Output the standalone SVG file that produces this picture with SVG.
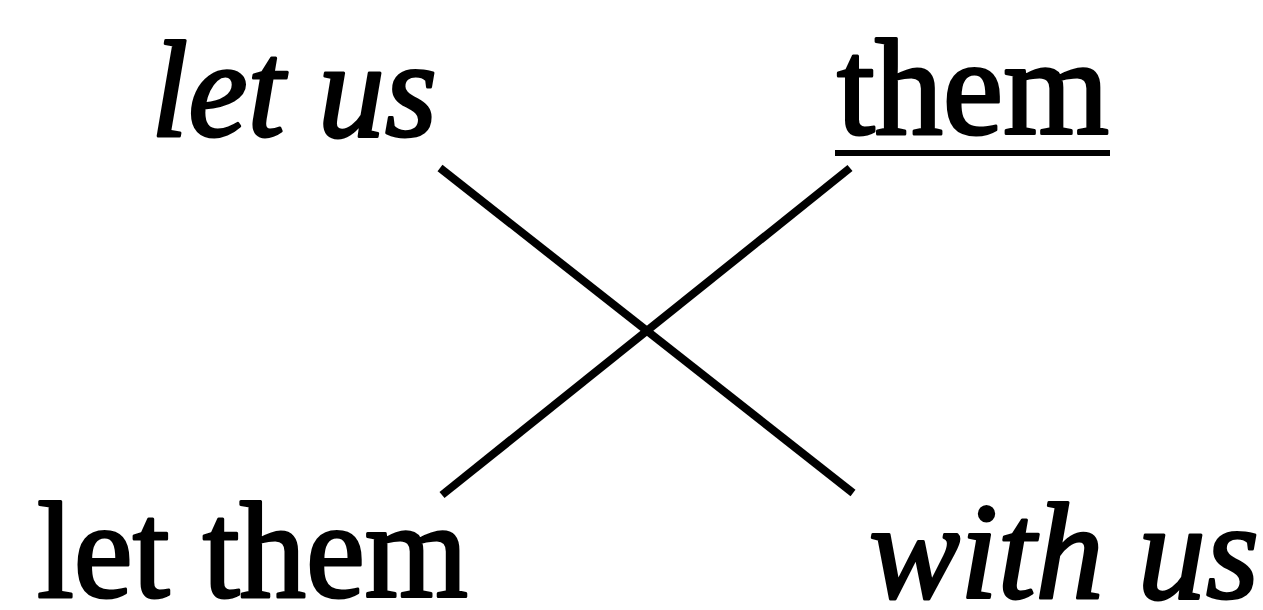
<svg xmlns="http://www.w3.org/2000/svg" width="1263" height="610" viewBox="0 0 1263 610">
<style>
.t{font-family:"Liberation Serif","Times New Roman",serif;font-size:138px;fill:#000;stroke:#000;stroke-width:3;stroke-linejoin:round}
.i{font-style:italic}
.c{stroke:#000;stroke-width:8;stroke-linecap:butt;fill:none}
</style>
<rect width="1263" height="610" fill="#fff"/>
<g id="node-let-us"><text class="t i" x="151" y="136" textLength="286" lengthAdjust="spacingAndGlyphs">let us</text></g>
<g id="node-them"><text class="t" x="837" y="134" textLength="272" lengthAdjust="spacingAndGlyphs">them</text><rect x="835" y="150" width="275" height="6" fill="#000"/></g>
<g id="node-let-them"><text class="t" x="37" y="597" textLength="431" lengthAdjust="spacingAndGlyphs">let them</text></g>
<g id="node-with-us"><text class="t i" x="869" y="598" textLength="390" lengthAdjust="spacingAndGlyphs">with us</text></g>
<g id="connectors">
<line class="c" x1="440" y1="168" x2="853" y2="493"/>
<line class="c" x1="850" y1="168" x2="442" y2="495"/>
</g>
</svg>
